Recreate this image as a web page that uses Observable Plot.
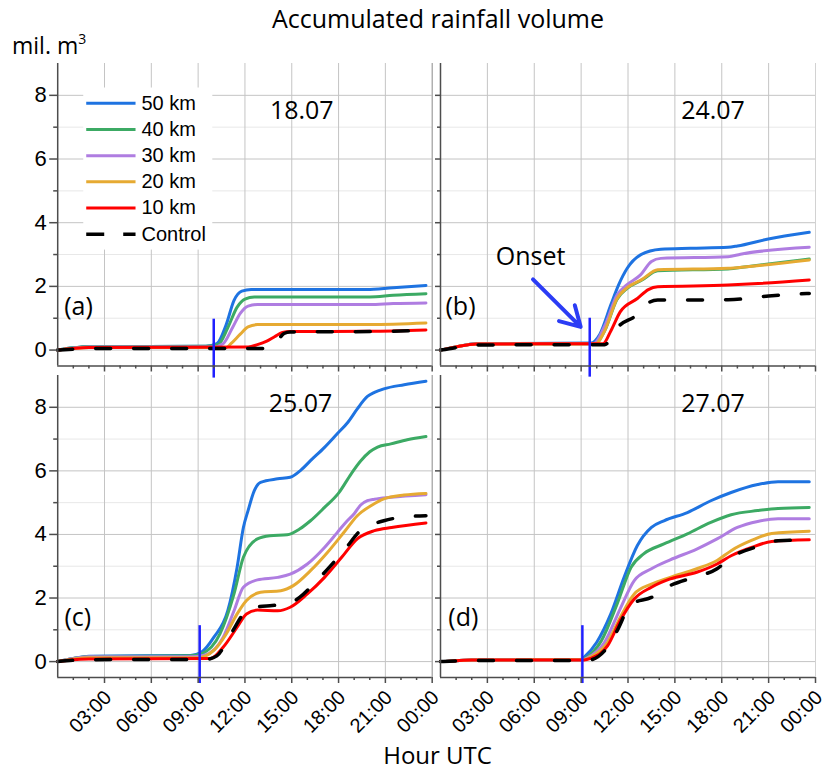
<!DOCTYPE html>
<html>
<head>
<meta charset="utf-8">
<script src="https://cdn.jsdelivr.net/npm/d3@7"></script>
<script src="https://cdn.jsdelivr.net/npm/@observablehq/plot@0.6"></script>
<style>
  body { margin: 0; background: #fff; }
  #chart { position: relative; width: 826px; height: 771px; overflow: hidden; background: #fff; }
  .lbl { position: absolute; font-family: "Open Sans", sans-serif; color: #000; white-space: nowrap; line-height: 1; }
  .panel { position: absolute; }
  .panel svg { max-width: none !important; }
</style>
</head>
<body>
<div id="chart">
  <div class="lbl" id="title" style="font-size:25px; left:438px; top:5.8px; transform:translateX(-50%);">Accumulated rainfall volume</div>
  <div class="lbl" id="ylab" style="font-size:23px; left:12px; top:33.6px;">mil. m<span style="font-size:14px; position:relative; top:-10px;">3</span></div>
  <div class="lbl" id="xlab" style="font-size:24px; left:437.6px; top:742.7px; transform:translateX(-50%);">Hour UTC</div>
</div>
<script>
// ---------------- data ----------------
const series = ["50 km", "40 km", "30 km", "20 km", "10 km", "Control"];
const seriesColors = ["#1e73e1", "#3caa64", "#af7de1", "#e6aa32", "#ff0000", "#000000"];
const dates = ["18.07", "24.07", "25.07", "27.07"];
const tags = ["(a)", "(b)", "(c)", "(d)"];
const onsetHour = [10.0, 9.55, 9.1, 9.08];
const onsetLabel = ["Onset"];
const hourTicks = [3, 6, 9, 12, 15, 18, 21, 24];
const hourGrid = [3, 6, 9, 12, 15, 18, 21];
const hourMinorTicks = [1, 2, 4, 5, 7, 8, 10, 11, 13, 14, 16, 17, 19, 20, 22, 23];
const yTicks = [0, 2, 4, 6, 8];
const yMinorTicks = [1, 3, 5, 7];

// (a) 18.07 — [hour UTC, mil. m3]
const a50 = [[0,0],[1,0.07],[2,0.11],[9.5,0.12],[10.2,0.2],[10.8,0.8],[11.3,1.56],[11.8,1.85],[12.4,1.9],[19.8,1.9],[21.5,1.96],[23.6,2.03]];
const a40 = [[0,0],[1,0.07],[2,0.11],[9.5,0.12],[10.3,0.18],[10.9,0.7],[11.5,1.35],[12.0,1.6],[12.6,1.67],[20,1.67],[21.5,1.72],[23.6,1.77]];
const a30 = [[0,0],[1,0.06],[2,0.1],[10,0.1],[10.6,0.2],[11.2,0.7],[11.7,1.15],[12.2,1.38],[12.8,1.43],[20,1.43],[21.5,1.46],[23.6,1.48]];
const a20 = [[0,0],[1,0.05],[2,0.08],[10.8,0.08],[11.1,0.2],[11.7,0.5],[12.2,0.73],[12.8,0.8],[20,0.8],[23.6,0.85]];
const a10 = [[0,0],[1,0.05],[2,0.08],[12.2,0.1],[12.8,0.17],[13.4,0.28],[13.9,0.42],[14.4,0.55],[14.9,0.58],[20,0.59],[23.6,0.63]];
const aCtl = [[0,0],[1,0.03],[2,0.05],[13.3,0.05],[13.7,0.1],[14.1,0.3],[14.5,0.52],[14.9,0.57],[20,0.58],[23.6,0.62]];

// (b) 24.07
const b50 = [[0,0],[1,0.1],[2.3,0.2],[9.6,0.22],[10.2,0.5],[10.9,1.42],[11.4,2.05],[11.95,2.57],[12.8,2.99],[14.1,3.17],[16,3.2],[18.4,3.23],[19,3.27],[20.9,3.48],[23.6,3.7]];
const b40 = [[0,0],[1,0.1],[2.3,0.2],[9.9,0.2],[10.5,0.6],[11.3,1.6],[11.95,1.94],[12.9,2.2],[13.9,2.49],[18.4,2.55],[19.6,2.62],[23.6,2.86]];
const b30 = [[0,0],[1,0.1],[2.3,0.2],[9.8,0.2],[10.5,0.75],[11.3,1.73],[11.9,2.04],[12.8,2.36],[13.5,2.78],[14.1,2.88],[18.4,2.93],[19.2,3.01],[23.6,3.23]];
const b20 = [[0,0],[1,0.1],[2.3,0.19],[9.9,0.19],[10.5,0.6],[11.3,1.62],[11.95,1.96],[12.9,2.22],[13.9,2.52],[18.4,2.57],[19.6,2.62],[23.6,2.83]];
const b10 = [[0,0],[1,0.1],[2.3,0.19],[10.4,0.2],[10.9,0.6],[11.5,1.2],[12.6,1.62],[13.3,1.9],[13.9,1.99],[18.4,2.04],[20,2.08],[23.6,2.2]];
const bCtl = [[0,0],[1,0.08],[2.3,0.16],[10.5,0.17],[10.9,0.35],[11.3,0.68],[12.6,1.12],[13.2,1.45],[13.9,1.57],[18.4,1.58],[21,1.7],[23.6,1.78]];

// (c) 25.07
const c50 = [[0,0],[1,0.1],[2,0.17],[8.5,0.19],[9.2,0.29],[10.0,0.76],[10.9,1.6],[11.5,2.97],[11.9,4.22],[12.2,4.75],[12.6,5.38],[13.0,5.64],[14.1,5.75],[14.9,5.8],[15.6,6.03],[16.2,6.32],[17.1,6.74],[17.9,7.16],[18.6,7.53],[19.2,7.95],[19.85,8.34],[20.3,8.47],[20.9,8.58],[22.2,8.71],[23.6,8.82]];
const c40 = [[0,0],[1,0.1],[2,0.16],[8.5,0.18],[9.2,0.24],[10.4,0.87],[11.3,2.13],[11.9,3.28],[12.8,3.86],[13.6,3.96],[14.7,3.99],[15.5,4.17],[16.2,4.43],[17.1,4.85],[18.0,5.3],[18.8,5.9],[19.4,6.3],[20.0,6.6],[20.5,6.75],[21.35,6.85],[22.4,6.98],[23.6,7.08]];
const c30 = [[0,0],[1,0.1],[2,0.15],[8.5,0.15],[9.4,0.2],[10.6,0.76],[11.3,1.6],[11.9,2.34],[12.8,2.57],[14.1,2.65],[14.9,2.75],[16.0,3.07],[17.1,3.59],[17.9,4.05],[18.5,4.4],[19.0,4.65],[19.4,4.92],[19.85,5.06],[20.3,5.11],[21.35,5.17],[23.6,5.25]];
const c20 = [[0,0],[1,0.08],[2,0.12],[9,0.12],[10.0,0.35],[10.8,0.87],[11.5,1.5],[12.1,1.92],[13.0,2.18],[14.3,2.23],[15.1,2.39],[16.2,2.86],[17.3,3.44],[18.4,4.1],[19.2,4.59],[20.1,4.91],[20.9,5.12],[22.2,5.24],[23.6,5.29]];
const c10 = [[0,0],[1,0.06],[2,0.08],[9.8,0.1],[10.6,0.45],[11.5,1.08],[12.1,1.5],[12.8,1.62],[14.1,1.6],[14.9,1.71],[16.0,2.13],[17.1,2.65],[18.2,3.28],[19.2,3.86],[20.3,4.12],[21.4,4.22],[23.6,4.36]];
const cCtl = [[0,0],[1,0.04],[2,0.06],[9.5,0.07],[10.2,0.18],[11.1,0.87],[12.1,1.6],[12.8,1.72],[13.6,1.76],[14.6,1.79],[15.5,2.02],[16.4,2.44],[17.5,3.02],[18.5,3.59],[19.4,4.12],[20.9,4.43],[22.4,4.56],[23.6,4.59]];

// (d) 27.07
const d50 = [[0,0],[1,0.03],[2,0.05],[9.0,0.06],[9.2,0.14],[10.0,0.61],[10.9,1.5],[11.75,2.65],[12.6,3.65],[13.5,4.22],[14.3,4.43],[15.8,4.69],[17.3,5.06],[18.6,5.32],[20.3,5.57],[21.6,5.66],[23.6,5.66]];
const d40 = [[0,0],[1,0.03],[2,0.05],[9.0,0.06],[9.3,0.12],[10.3,0.66],[11.3,1.81],[12.2,2.97],[13.0,3.39],[14.3,3.7],[15.8,4.02],[17.3,4.38],[18.6,4.62],[20.3,4.75],[21.6,4.82],[23.6,4.85]];
const d30 = [[0,0],[1,0.03],[2,0.05],[9.1,0.06],[9.4,0.12],[10.5,0.61],[11.5,1.66],[12.4,2.55],[13.5,2.92],[14.7,3.2],[16.4,3.54],[17.7,3.86],[19.0,4.22],[20.3,4.41],[21.6,4.49],[23.6,4.49]];
const d20 = [[0,0],[1,0.03],[2,0.05],[9.2,0.06],[9.6,0.14],[10.7,0.61],[11.5,1.39],[12.4,2.13],[13.5,2.44],[14.7,2.65],[16.4,2.92],[17.7,3.18],[18.6,3.49],[19.9,3.81],[21.2,4.03],[23.6,4.1]];
const d10 = [[0,0],[1,0.03],[2,0.05],[9.2,0.05],[9.6,0.1],[10.7,0.5],[11.5,1.29],[12.4,1.97],[13.5,2.34],[14.7,2.6],[16.4,2.81],[17.7,3.07],[18.6,3.33],[19.9,3.59],[21.2,3.78],[23.6,3.83]];
const dCtl = [[0,0],[1,0.02],[2,0.03],[9.4,0.04],[10.5,0.34],[11.3,0.97],[12.2,1.81],[13.5,2.02],[14.7,2.39],[16.2,2.65],[17.7,2.92],[18.6,3.28],[20.1,3.59],[21.6,3.8],[23.6,3.83]];

const panelData = [
  [a50, a40, a30, a20, a10, aCtl],
  [b50, b40, b30, b20, b10, bCtl],
  [c50, c40, c30, c20, c10, cCtl],
  [d50, d40, d30, d20, d10, dCtl]
];

// ---------------- layout (positions in data units / pixels) ----------------
const layout = [
  {left: 0,   top: 53.4,  ml: 57.2, fw: 374.5, fh: 302.5, mb: 20, yLabels: true,  xLabels: false, right: "#8a8a8a", date: [15.64, 7.25], tag: [1.33, 1.1],  onset: [0.97, -0.88]},
  {left: 420, top: 53.4,  ml: 20,   fw: 375,   fh: 302.5, mb: 20, yLabels: false, xLabels: false, right: "#d2d2d2", date: [17.44, 7.25], tag: [1.28, 1.1],  onset: [1.0, -0.85]},
  {left: 0,   top: 364.9, ml: 57.2, fw: 374.5, fh: 302,   mb: 85, yLabels: true,  xLabels: true,  right: "#8a8a8a", date: [15.56, 7.84], tag: [1.29, 1.13], onset: [1.13, -0.69]},
  {left: 420, top: 364.9, ml: 20,   fw: 375,   fh: 302,   mb: 85, yLabels: false, xLabels: true,  right: "#d2d2d2", date: [17.44, 7.84], tag: [1.46, 1.13], onset: [1.13, -0.69]}
];
const mt = 10, mr = 10;
const axisColor = "#4d4d4d";
const tickFont = "'Liberation Sans', Arial, sans-serif";
const hourFmt = h => String(h % 24).padStart(2, "0") + ":00";
const blank = () => "";

function panel(i) {
  const L = layout[i];
  const marks = [
    Plot.gridY(yMinorTicks, {stroke: "#e8e8e8", strokeOpacity: 1}),
    Plot.gridY(yTicks, {stroke: "#c4c4c4", strokeOpacity: 1}),
    Plot.gridX(hourGrid, {stroke: "#c4c4c4", strokeOpacity: 1})
  ];
  if (i === 0) {
    // legend box
    marks.push(Plot.rect([0], {x1: 1.67, x2: 9.94, y1: 3.14, y2: 8.23, fill: "white"}));
    series.forEach((name, k) => {
      const yy = 7.75 - k * 0.822;
      marks.push(Plot.ruleY([yy], {x1: 1.86, x2: 5.02, stroke: seriesColors[k], strokeWidth: k === 5 ? 3.5 : 3,
        strokeDasharray: k === 5 ? "18,19" : null}));
    });
    marks.push(Plot.text(series, {x: 5.37, y: (d, k) => 7.75 - k * 0.822, text: d => d, textAnchor: "start",
      lineAnchor: "middle", fontSize: 20, fontFamily: tickFont, fill: "black"}));
  }
  panelData[i].forEach((data, k) => {
    marks.push(Plot.line(data, {x: d => d[0], y: d => d[1], stroke: seriesColors[k],
      strokeWidth: k === 5 ? 3.5 : 3, curve: "monotone-x",
      strokeDasharray: k === 5 ? "15,23" : null}));
  });
  marks.push(Plot.ruleX([onsetHour[i]], {y1: L.onset[0], y2: L.onset[1], stroke: "#2020ff", strokeWidth: 2.5}));
  if (i === 1) {
    marks.push(Plot.arrow([[5.92, 2.22, 8.97, 0.73]], {x1: d => d[0], y1: d => d[1], x2: d => d[2], y2: d => d[3],
      stroke: "#2b3cf5", strokeWidth: 4, headLength: 16, headAngle: 60}));
    marks.push(Plot.text(onsetLabel, {x: 5.77, y: 2.67, text: d => d, lineAnchor: "bottom", textAnchor: "middle",
      fontSize: 25, fontFamily: "'Open Sans', sans-serif", fill: "black"}));
  }
  // frame lines
  marks.push(Plot.ruleX([24], {stroke: L.right, strokeWidth: 1}));
  marks.push(Plot.ruleX([0], {stroke: axisColor, strokeWidth: 1.5}));
  marks.push(Plot.ruleY([-0.5], {stroke: axisColor, strokeWidth: 1.5}));
  // axes: tick marks
  marks.push(Plot.axisY({ticks: yTicks, anchor: "left", tickSize: L.yLabels ? 8 : 5, tickFormat: blank,
    stroke: axisColor, strokeWidth: 1.5, label: null}));
  marks.push(Plot.axisY({ticks: yMinorTicks, anchor: "left", tickSize: L.yLabels ? 4 : 3, tickFormat: blank,
    stroke: axisColor, strokeWidth: 1.5, label: null}));
  marks.push(Plot.axisX({ticks: hourTicks, anchor: "bottom", tickSize: 6, tickFormat: blank,
    stroke: axisColor, strokeWidth: 1.5, label: null}));
  marks.push(Plot.axisX({ticks: hourMinorTicks, anchor: "bottom", tickSize: 3, tickFormat: blank,
    stroke: axisColor, strokeWidth: 1.5, label: null}));
  // axes: tick labels
  if (L.yLabels) {
    marks.push(Plot.text(yTicks, {y: d => d, frameAnchor: "left", dx: -11, text: d => String(d),
      textAnchor: "end", lineAnchor: "middle", fontSize: 22, fontFamily: tickFont, fill: "black"}));
  }
  if (L.xLabels) {
    marks.push(Plot.text(hourTicks, {x: d => d, frameAnchor: "bottom", dx: -2, dy: 11, rotate: -45, text: hourFmt,
      textAnchor: "end", lineAnchor: "top", fontSize: 20, fontFamily: tickFont, fill: "black"}));
  }
  // panel labels
  marks.push(Plot.text([dates[i]], {x: L.date[0], y: L.date[1], text: d => d, lineAnchor: "bottom", textAnchor: "middle",
    fontSize: 25, fontFamily: "'Open Sans', sans-serif", fill: "black"}));
  marks.push(Plot.text([tags[i]], {x: L.tag[0], y: L.tag[1], text: d => d, lineAnchor: "bottom", textAnchor: "middle",
    fontSize: 25, fontFamily: "'Open Sans', sans-serif", fill: "black"}));

  const width = L.ml + L.fw + mr;
  const height = mt + L.fh + L.mb;
  const svg = Plot.plot({
    width, height,
    marginLeft: L.ml, marginRight: mr, marginTop: mt, marginBottom: L.mb,
    x: {domain: [0, 24]},
    y: {domain: [-0.5, 9]},
    style: {background: "transparent", overflow: "visible", fontFamily: tickFont, fontSize: "20px", color: "black"},
    marks
  });
  const div = document.createElement("div");
  div.className = "panel";
  div.style.left = L.left + "px";
  div.style.top = L.top + "px";
  div.style.width = width + "px";
  div.style.height = height + "px";
  div.appendChild(svg);
  document.getElementById("chart").appendChild(div);
}
[0, 1, 2, 3].forEach(panel);
</script>
</body>
</html>
